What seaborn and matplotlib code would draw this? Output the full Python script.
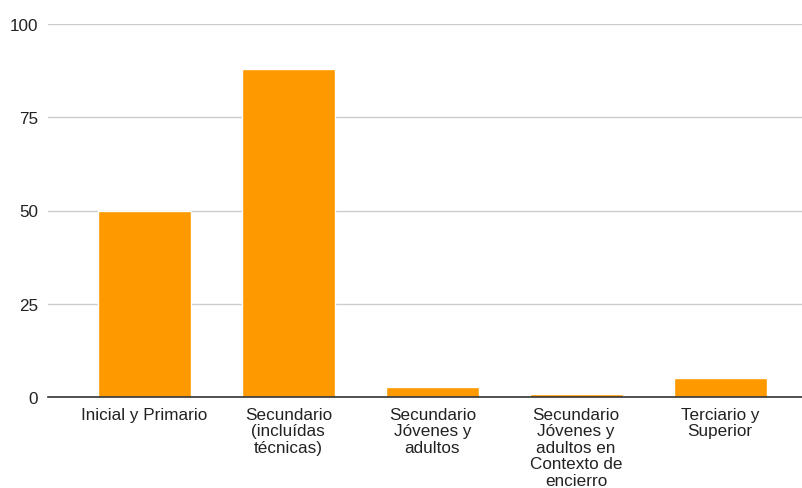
import matplotlib
matplotlib.use("Agg")
import matplotlib.pyplot as plt
import seaborn as sns
import pandas as pd

categories = ["Inicial y Primario", "Secundario\n(incluídas\ntécnicas)", "Secundario\nJóvenes y\nadultos",
              "Secundario\nJóvenes y\nadultos en\nContexto de\nencierro", "Terciario y\nSuperior"]
values = [50, 88, 2.8, 1, 5.1]
yticks = [0, 25, 50, 75, 100]

sns.set_theme(style="white")
plt.rcParams['font.family'] = ['Liberation Sans', 'DejaVu Sans']

df = pd.DataFrame({"cat": categories, "val": values})

fig = plt.figure(figsize=(8.03, 4.89), dpi=100)
ax = fig.add_axes([48/803, 90.7/489, 755/803, 373.6/489])
sns.barplot(data=df, x="cat", y="val", color="#FF9900", saturation=1, width=0.645, ax=ax)

ax.set_xlim(-0.67, 4.576)
ax.set_ylim(0, 100)
ax.set_yticks(yticks)
ax.set_yticklabels([str(t) for t in yticks])
ax.set_xlabel("")
ax.set_ylabel("")
for s in ["top", "right", "left"]:
    ax.spines[s].set_visible(False)
ax.spines["bottom"].set_color("#333333")
ax.spines["bottom"].set_linewidth(1.2)
ax.grid(axis="y", color="#cccccc", linewidth=1)
ax.set_axisbelow(True)
ax.tick_params(axis="y", length=0, pad=7, labelsize=12.3, labelcolor="#222222")
ax.tick_params(axis="x", length=0, pad=7, labelsize=12.3, labelcolor="#222222")
for lbl in ax.get_xticklabels():
    lbl.set_linespacing(1.12)
    lbl.set_verticalalignment("top")

fig.savefig("out.png", dpi=100, facecolor="white")
